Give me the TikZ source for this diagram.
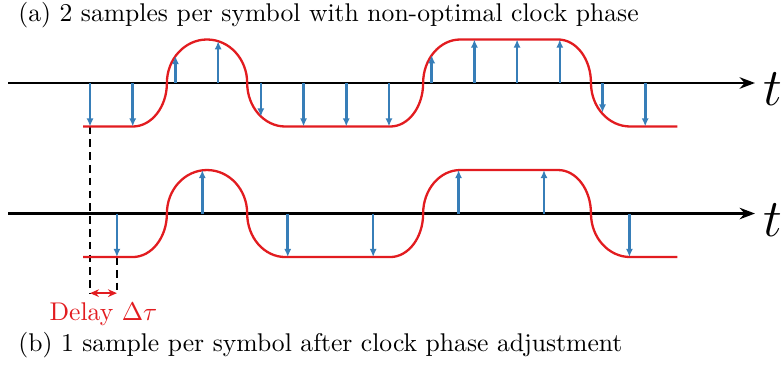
\documentclass[tikz,border=0pt]{standalone}
\usepackage{amsmath, amssymb}
\usepackage{xcolor}
\usetikzlibrary{arrows.meta, positioning}

\definecolor{sigred}{RGB}{226,28,32}
\definecolor{smpblue}{RGB}{55,126,184}

\begin{document}
\begin{tikzpicture}[
  x=0.586cm, y=0.597cm,
  axis/.style={line width=0.85pt, -{Stealth[length=6pt, width=4.5pt]}},
  wave/.style={sigred, line width=0.9pt},
  sample/.style={smpblue, line width=1pt, -{Latex[length=3.2pt, width=2.8pt]}},
  guide/.style={line width=0.85pt, dash pattern=on 3pt off 2pt},
  caption/.style={anchor=base west, inner sep=0pt}
]

\useasboundingbox (-2.108,-6.53) rectangle (16.25,1.908);

% Captions
\node[caption] (capa) at (-1.69,1.41) {(a) 2 samples per symbol with non-optimal clock phase};
\node[caption] (capb) at (-1.69,-6.18) {(b) 1 sample per symbol after clock phase adjustment};

% Delay marks
\coordinate (d1) at (0,-4.83);
\coordinate (d2) at (0.63,-4.83);
\draw[guide] (0,-1) -- (d1);
\draw[guide] (0.63,-4) -- (d2);
\draw[sigred, line width=0.9pt, {Stealth[length=3.5pt, width=3pt]}-{Stealth[length=3.5pt, width=3pt]}] (d1) -- (d2);
\node[sigred, anchor=base, inner sep=0pt] (delay) at (0.315,-5.45) {Delay $\Delta\tau$};

% Axes and signals
\foreach \row/\nm in {0/ta, -3/tb} {
  \begin{scope}[shift={(0,\row)}]
    \draw[axis] (-1.92,0) -- (15.57,0);
    \node[font=\huge, inner sep=0pt] (\nm) at (16.0,-0.15) {$t$};
    \draw[wave] (-0.16,-1) -- (1.0,-1)
      .. controls (1.44,-1) and (1.8,-0.552) .. (1.8,0)
      .. controls (1.8,0.552) and (2.22,1) .. (2.74,1)
      .. controls (3.26,1) and (3.68,0.552) .. (3.68,0)
      .. controls (3.68,-0.552) and (4.08,-1) .. (4.57,-1)
      -- (7.03,-1)
      .. controls (7.455,-1) and (7.8,-0.552) .. (7.8,0)
      .. controls (7.8,0.552) and (8.19,1) .. (8.67,1)
      -- (10.96,1)
      .. controls (11.385,1) and (11.73,0.552) .. (11.73,0)
      .. controls (11.73,-0.552) and (12.14,-1) .. (12.65,-1)
      -- (13.75,-1);
  \end{scope}
}

% Samples (a)
\foreach \x/\v in {0/-1, 1/-1, 2/0.62, 3/0.96, 4/-0.77, 5/-1, 6/-1, 7/-1,
                   8/0.64, 9/1, 10/1, 11/1, 12/-0.68, 13/-1}
  \draw[sample] (\x,0) -- (\x,\v);

% Samples (b)
\foreach \x/\v in {0.63/-1, 2.63/1, 4.63/-1, 6.63/-1, 8.63/1, 10.63/1, 12.63/-1}
  \draw[sample] (\x,-3) -- (\x,-3+\v);

\end{tikzpicture}
\end{document}
